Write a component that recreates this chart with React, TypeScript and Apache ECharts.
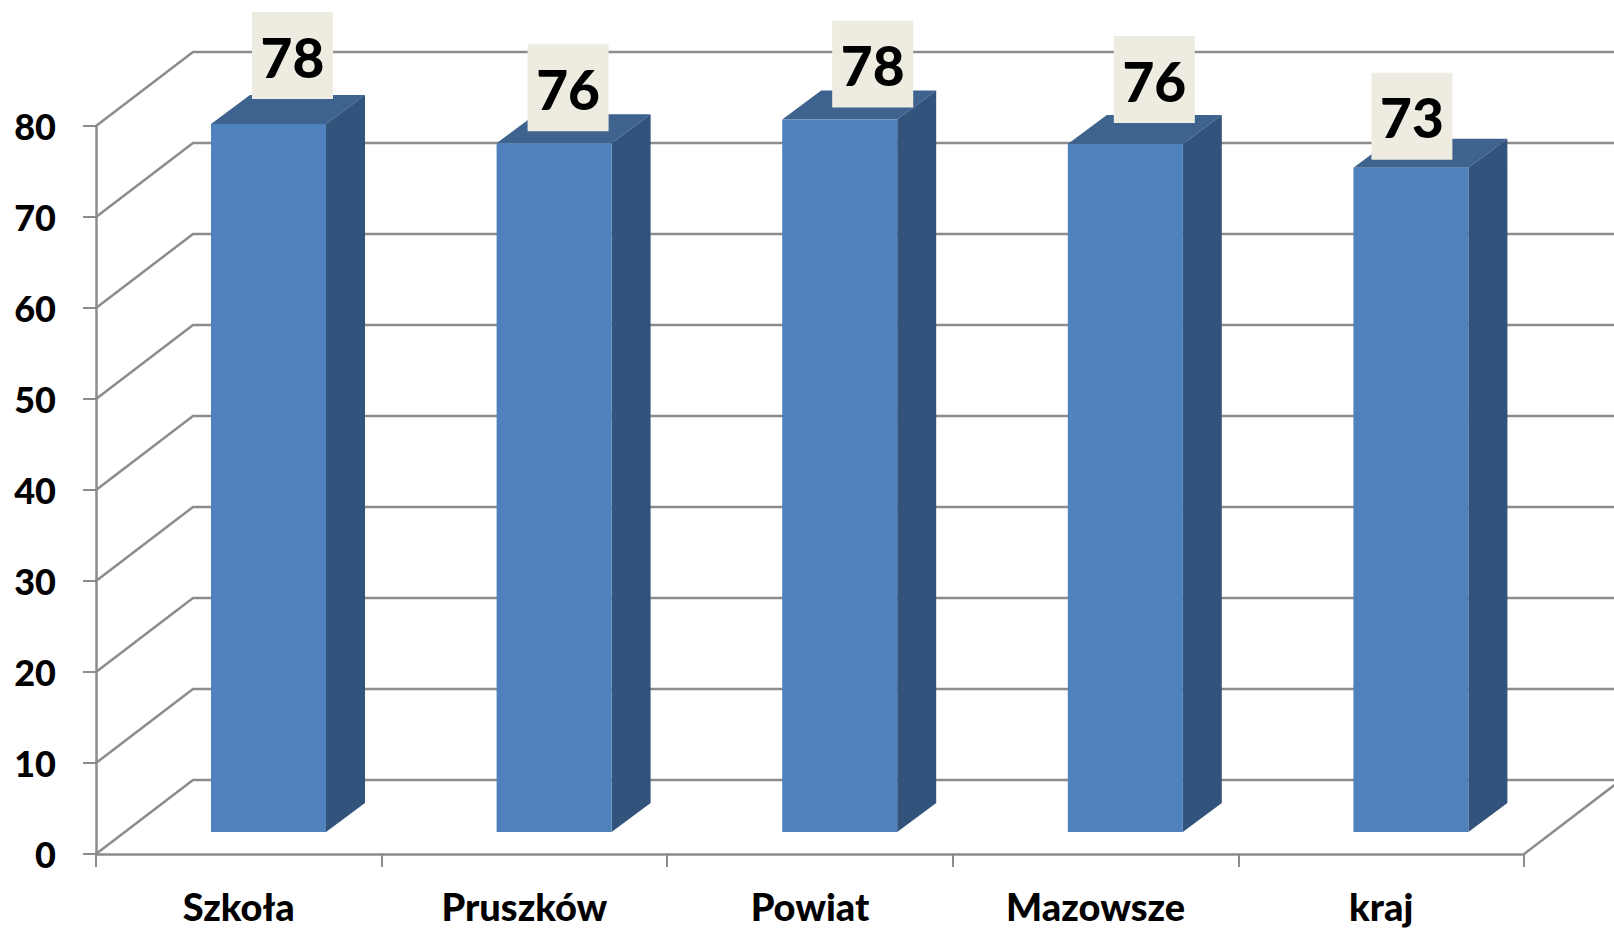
import React, { useEffect, useRef } from "react";
import * as echarts from "echarts";

const categories = ["Szkoła", "Pruszków", "Powiat", "Mazowsze", "kraj"];
const values = [77.8, 75.7, 78.3, 75.6, 73.0];
const yTicks = [0, 10, 20, 30, 40, 50, 60, 70, 80];

// manually placed data-label boxes, relative to each bar's top centre (px)
const labelDx = [24, 14, 33, 29, 1];
const labelDy = [-25, -12, -12, -21, -8];

const FONT = "Lato, Carlito, sans-serif";
const GRID_COLOR = "#8c8c8c";
const WALL_DX = 97;
const WALL_DY = 74;
const BAR_SHIFT_X = 29.7;
const BAR_SHIFT_Y = 22;
const BAR_W = 115;
const SIDE_DX = 39;
const SIDE_DY = 29;
const BOX_W = 81;
const BOX_H = 87;

function renderWall(params: any, api: any) {
  const cs = params.coordSys;
  const v = api.value(1);
  const [, y] = api.coord([0, v]);
  const left = cs.x;
  const right = cs.x + cs.width;
  const style = { stroke: GRID_COLOR, lineWidth: 2.5, fill: "none" };
  const children: any[] = [
    {
      type: "polyline",
      shape: { points: [[left, y], [left + WALL_DX, y - WALL_DY], [right + WALL_DX, y - WALL_DY]] },
      style,
    },
  ];
  if (v === 0) {
    children.push({
      type: "line",
      shape: { x1: right, y1: y, x2: right + WALL_DX, y2: y - WALL_DY },
      style,
    });
  }
  return { type: "group", children };
}

function renderBar(params: any, api: any) {
  const idx = api.value(0);
  const v = api.value(1);
  const [cx, top0] = api.coord([idx, v]);
  const [, base0] = api.coord([idx, 0]);
  const l = cx + BAR_SHIFT_X - BAR_W / 2;
  const r = l + BAR_W;
  const top = top0 - BAR_SHIFT_Y;
  const base = base0 - BAR_SHIFT_Y;
  const mid = (l + r) / 2;
  const boxCx = mid + labelDx[params.dataIndex];
  const boxBottom = top + labelDy[params.dataIndex];
  return {
    type: "group",
    children: [
      {
        type: "polygon",
        shape: { points: [[l, top], [l + SIDE_DX, top - SIDE_DY], [r + SIDE_DX, top - SIDE_DY], [r, top]] },
        style: { fill: "#3e638f" },
      },
      {
        type: "polygon",
        shape: { points: [[r, top], [r + SIDE_DX, top - SIDE_DY], [r + SIDE_DX, base - SIDE_DY], [r, base]] },
        style: { fill: "#32537b" },
      },
      {
        type: "rect",
        shape: { x: l, y: top, width: BAR_W, height: base - top },
        style: { fill: "#4f81bd" },
      },
      {
        type: "rect",
        shape: { x: boxCx - BOX_W / 2, y: boxBottom - BOX_H, width: BOX_W, height: BOX_H },
        style: { fill: "#eeece1" },
      },
      {
        type: "text",
        x: boxCx,
        y: boxBottom - BOX_H / 2 + 1,
        style: {
          text: String(Math.round(v)),
          fill: "#000",
          font: `900 55px ${FONT}`,
          textAlign: "center",
          textVerticalAlign: "middle",
          align: "center",
          verticalAlign: "middle",
        },
      },
    ],
  };
}

export default function App() {
  const ref = useRef<HTMLDivElement>(null);
  useEffect(() => {
    const chart = echarts.init(ref.current!, null, { renderer: "svg" });
    chart.setOption({
      animation: false,
      backgroundColor: "#fff",
      grid: { left: 96, right: 90, top: 126, bottom: 75, containLabel: false },
      xAxis: {
        type: "category",
        data: categories,
        boundaryGap: true,
        axisLine: { show: true, lineStyle: { color: GRID_COLOR, width: 2.5 } },
        axisTick: { show: true, length: 13, alignWithLabel: false, lineStyle: { color: GRID_COLOR, width: 2 } },
        axisLabel: { color: "#000", fontFamily: FONT, fontWeight: 900, fontSize: 38, margin: 33 },
        splitLine: { show: false },
      },
      yAxis: {
        type: "value",
        min: 0,
        max: 80,
        interval: 10,
        axisLine: { show: true, lineStyle: { color: GRID_COLOR, width: 2.5 } },
        axisTick: { show: true, length: 13, lineStyle: { color: GRID_COLOR, width: 2 } },
        axisLabel: { color: "#000", fontFamily: FONT, fontWeight: 900, fontSize: 36, margin: 40 },
        splitLine: { show: false },
      },
      series: [
        {
          type: "custom",
          z: 1,
          clip: false,
          silent: true,
          renderItem: renderWall,
          encode: { x: 0, y: 1 },
          data: yTicks.map((t) => [0, t]),
        },
        {
          type: "custom",
          z: 3,
          clip: false,
          renderItem: renderBar,
          encode: { x: 0, y: 1 },
          data: values.map((v, i) => [i, v]),
        },
      ],
    });
    return () => chart.dispose();
  }, []);
  return <div ref={ref} style={{ position: "absolute", left: 0, top: 0, width: 1614, height: 929 }} />;
}
